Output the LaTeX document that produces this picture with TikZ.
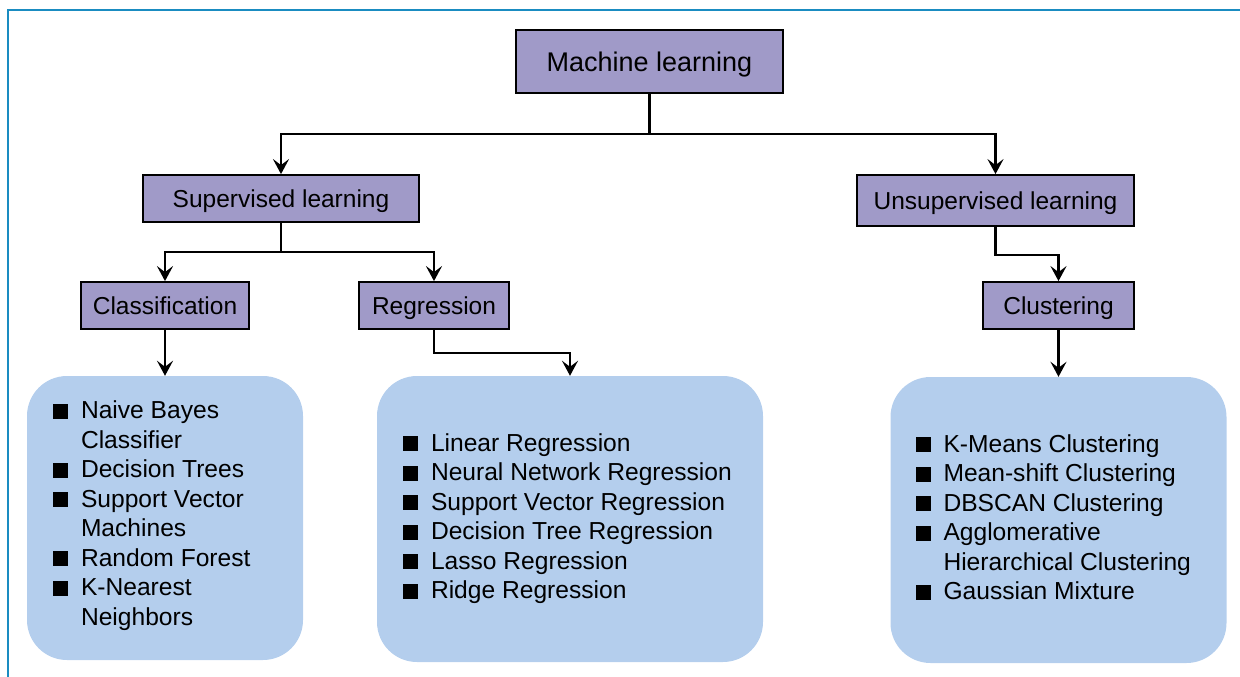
\documentclass[tikz,border=0pt]{standalone}
\usepackage{fontspec}
\setmainfont{Liberation Sans}
\usetikzlibrary{arrows.meta}
\definecolor{purp}{HTML}{A09AC8}
\definecolor{lblue}{HTML}{B4CEED}
\definecolor{frameblue}{HTML}{1A8CC1}
\newcommand\sqb{\rule{15pt}{15pt}}
\newcommand\listfont{\fontsize{24.6}{29.5}\selectfont}
\begin{document}
\begin{tikzpicture}[x=1pt,y=-1pt,
  cat/.style={draw=black, line width=1.8pt, fill=purp, inner sep=0pt,
    text height=17.5pt, text depth=0pt, font=\fontsize{24.5}{28}\selectfont},
  listbox/.style={fill=lblue, rounded corners=40pt, inner sep=0pt},
  listtext/.style={anchor=west, inner sep=0pt, font=\listfont},
  arr/.style={line width=2.8pt, -{Stealth[length=15pt,width=16pt,inset=6pt]}},
  frame/.style={draw=frameblue, line width=2pt}]
\useasboundingbox (0,0) rectangle (1240,677);
\draw[frame] (8,677) -- (8,10) -- (1240,10);

% category boxes
\node[cat, minimum width=267pt, minimum height=63pt, text height=19.3pt, font=\fontsize{27}{30}\selectfont] (ml) at (649.5,61.5) {Machine learning};
\node[cat, minimum width=276pt, minimum height=47pt] (sup) at (281,198.5) {Supervised learning};
\node[cat, minimum width=277pt, minimum height=51pt] (uns) at (995.5,200.5) {Unsupervised learning};
\node[cat, minimum width=168pt, minimum height=47pt] (cls) at (165,305.5) {Classification};
\node[cat, minimum width=150pt, minimum height=47pt] (reg) at (434,305.5) {Regression};
\node[cat, minimum width=151pt, minimum height=47pt] (clu) at (1058.5,305.5) {Clustering};

% list boxes
\node[listbox, minimum width=276pt, minimum height=284pt] (l1) at (165,518) {};
\node[listbox, minimum width=386pt, minimum height=286pt] (l2) at (570,519) {};
\node[listbox, minimum width=336pt, minimum height=286pt] (l3) at (1058.5,520) {};

\node[listtext] (t1) at ([xshift=26pt,yshift=2pt]l1.west) {%
\begin{tabular}{@{}l@{\hspace{13pt}}l@{}}
\sqb & Naive Bayes\\
     & Classifier\\
\sqb & Decision Trees\\
\sqb & Support Vector\\
     & Machines\\
\sqb & Random Forest\\
\sqb & K-Nearest\\
     & Neighbors
\end{tabular}};
\node[listtext] (t2) at ([xshift=26pt]l2.west) {%
\begin{tabular}{@{}l@{\hspace{13pt}}l@{}}
\sqb & Linear Regression\\
\sqb & Neural Network Regression\\
\sqb & Support Vector Regression\\
\sqb & Decision Tree Regression\\
\sqb & Lasso Regression\\
\sqb & Ridge Regression
\end{tabular}};
\node[listtext] (t3) at ([xshift=25pt]l3.west) {%
\begin{tabular}{@{}l@{\hspace{13pt}}l@{}}
\sqb & K-Means Clustering\\
\sqb & Mean-shift Clustering\\
\sqb & DBSCAN Clustering\\
\sqb & Agglomerative\\
     & Hierarchical Clustering\\
\sqb & Gaussian Mixture
\end{tabular}};

% connectors
\draw[arr] (ml.south) -- ++(0,40) -| (sup.north);
\draw[arr] (ml.south) -- ++(0,40) -| (uns.north);
\draw[arr] (sup.south) -- ++(0,29) -| (cls.north);
\draw[arr] (sup.south) -- ++(0,29) -| (reg.north);
\draw[arr] (cls.south) -- (l1.north);
\draw[arr] (reg.south) -- ++(0,23) -| (l2.north);
\draw[arr] (uns.south) -- ++(0,28) -| (clu.north);
\draw[arr] (clu.south) -- (l3.north);
\end{tikzpicture}
\end{document}
